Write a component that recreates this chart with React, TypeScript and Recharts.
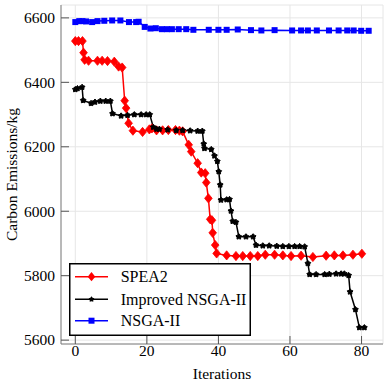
import React from 'react';
import { LineChart, Line, XAxis, YAxis, CartesianGrid, Legend } from 'recharts';

// ---- Data ----
const spea2X = [0, 0.9, 2.0, 2.3, 2.6, 3.7, 6.2, 7.5, 9.0, 10.9, 12.1, 13.1, 13.8, 14.2, 14.9, 16.1, 18.8, 20.7, 21.4, 22.7, 24.4, 26, 28, 29.1, 30, 31.7, 32.4, 34.2, 35.2, 36.3, 36.6, 37.2, 37.7, 38.2, 38.4, 39.1, 39.5, 42.3, 44.9, 46.8, 48.9, 51, 53.1, 55.7, 58, 60.3, 63.1, 66.4, 70.1, 72.4, 74.8, 77.6, 80.1];
const spea2Y = [6528, 6528, 6528, 6492, 6470, 6467, 6467, 6467, 6466, 6464, 6449, 6446, 6343, 6320, 6273, 6250, 6246, 6254, 6257, 6251, 6251, 6252, 6252, 6250, 6248, 6206, 6185, 6149, 6120, 6118, 6089, 6040, 5975, 5972, 5933, 5895, 5869, 5863, 5861, 5861, 5861, 5861, 5865, 5865, 5863, 5861, 5862, 5858, 5862, 5863, 5863, 5865, 5868];

const improvedX = [0, 0.6, 1.9, 2.2, 4.4, 5.5, 7, 8.5, 9.8, 10.4, 12.8, 14.6, 16.5, 18.4, 19.8, 20.8, 21.8, 22.7, 23.5, 25.8, 28.2, 30, 32.1, 34.2, 35.5, 35.9, 36.1, 38, 38.9, 39.7, 40.1, 40.5, 40.7, 42.3, 43.1, 43.5, 44, 44.9, 45.7, 47.7, 49.7, 50.5, 52.4, 54.2, 56.3, 58, 59.7, 61.3, 62.7, 64.1, 65, 65.5, 67.3, 69.7, 71, 72.9, 74.3, 75.2, 76.4, 76.8, 78.3, 79.4, 80.8];
const improvedY = [6378, 6381, 6385, 6344, 6335, 6339, 6342, 6342, 6342, 6303, 6296, 6298, 6300, 6300, 6300, 6300, 6261, 6255, 6255, 6253, 6251, 6251, 6250, 6249, 6249, 6209, 6195, 6192, 6172, 6155, 6123, 6082, 6035, 6036, 6037, 6001, 5969, 5966, 5921, 5921, 5921, 5895, 5893, 5893, 5892, 5891, 5891, 5891, 5891, 5890, 5838, 5804, 5804, 5804, 5805, 5806, 5806, 5806, 5801, 5750, 5695, 5639, 5639];

const nsgaX = [0, 1.1, 2, 3, 4.7, 6.2, 8.1, 10.3, 12.6, 15, 17, 17.7, 19.4, 21, 22.5, 24.2, 25.6, 27, 28.9, 31, 33, 37.3, 40, 42.3, 45.4, 49.1, 52, 55.7, 60.6, 63.1, 65, 67.5, 70.9, 73.6, 76, 77.8, 79.9, 82];
const nsgaY = [6587, 6590, 6590, 6589, 6587, 6590, 6591, 6592, 6592, 6587, 6587, 6588, 6572, 6567, 6568, 6565, 6565, 6565, 6565, 6565, 6563, 6563, 6563, 6563, 6564, 6562, 6561, 6562, 6561, 6561, 6561, 6561, 6561, 6561, 6561, 6561, 6560, 6560];

const xTicks = [0, 20, 40, 60, 80];
const yTicks = [5600, 5800, 6000, 6200, 6400, 6600];
const seriesNames = ['SPEA2', 'Improved NSGA-II', 'NSGA-II'];

const toData = (xs: number[], ys: number[]) => xs.map((x, i) => ({ x, y: ys[i] }));
const spea2Data = toData(spea2X, spea2Y);
const improvedData = toData(improvedX, improvedY);
const nsgaData = toData(nsgaX, nsgaY);

const FONT = "'Liberation Serif', 'Times New Roman', serif";

// ---- Markers ----
const diamondPts = (cx: number, cy: number) =>
  `${cx},${cy - 4.6} ${cx + 3.8},${cy} ${cx},${cy + 4.6} ${cx - 3.8},${cy}`;
const starPts = (cx: number, cy: number) => {
  const pts: string[] = [];
  for (let i = 0; i < 10; i++) {
    const r = i % 2 === 0 ? 3.0 : 1.9;
    const a = -Math.PI / 2 + (i * Math.PI) / 5;
    pts.push(`${cx + r * Math.cos(a)},${cy + r * Math.sin(a)}`);
  }
  return pts.join(' ');
};

const RedDot = (p: any) =>
  p.cx == null ? <g key={p.index} /> : <polygon key={p.index} points={diamondPts(p.cx, p.cy)} fill="#ff0000" stroke="#ff0000" strokeWidth={0.8} />;
const BlackDot = (p: any) =>
  p.cx == null ? <g key={p.index} /> : <polygon key={p.index} points={starPts(p.cx, p.cy)} fill="#000" stroke="#000" strokeWidth={1} strokeLinejoin="round" />;
const BlueDot = (p: any) =>
  p.cx == null ? <g key={p.index} /> : <rect key={p.index} x={p.cx - 3} y={p.cy - 3} width={6} height={6} fill="#0000ff" />;

const XTick = (p: any) => (
  <text x={p.x} y={p.y + 11} textAnchor="middle" fontFamily={FONT} fontSize={15.5} fill="#000">
    {p.payload.value}
  </text>
);
const YTick = (p: any) => (
  <text x={p.x} y={p.y + 5.3} textAnchor="end" fontFamily={FONT} fontSize={15.5} fill="#000">
    {p.payload.value}
  </text>
);

const LegendBox = () => {
  const rows = [
    { name: seriesNames[0], color: '#ff0000', kind: 'd' },
    { name: seriesNames[1], color: '#000000', kind: 's' },
    { name: seriesNames[2], color: '#0000ff', kind: 'q' },
  ];
  const ys = [13.7, 36.3, 57.7];
  return (
    <svg width={182} height={73} style={{ display: 'block' }}>
      <rect x={0.75} y={0.75} width={180.5} height={71.5} fill="#fff" stroke="#000" strokeWidth={1.5} />
      {rows.map((r, i) => {
        const y = ys[i];
        return (
          <g key={r.name}>
            <line x1={6} x2={39} y1={y} y2={y} stroke={r.color} strokeWidth={1.5} />
            {r.kind === 'd' && <polygon points={diamondPts(22.5, y)} fill={r.color} />}
            {r.kind === 's' && <polygon points={starPts(22.5, y)} fill={r.color} />}
            {r.kind === 'q' && <rect x={19.5} y={y - 3} width={6} height={6} fill={r.color} />}
            <text x={51.7} y={y + 5.5} fontFamily={FONT} fontSize={16} fill="#000">{r.name}</text>
          </g>
        );
      })}
    </svg>
  );
};

export default function App() {
  return (
    <div style={{ position: 'absolute', left: 0, top: 0, background: '#fff', fontFamily: FONT }}>
      <LineChart width={390} height={388} margin={{ top: 5, right: 7, left: 0, bottom: 0 }}>
        <CartesianGrid stroke="#e6e6e6" strokeWidth={1} />
        <XAxis
          type="number"
          dataKey="x"
          domain={[-4, 86]}
          ticks={xTicks}
          allowDataOverflow
          height={44}
          tickSize={-8}
          tickMargin={9}
          tick={XTick}
          stroke="#7f7f7f"
          tickLine={{ stroke: '#555' }}
          label={{ value: 'Iterations', position: 'insideBottom', offset: 9, style: { fontFamily: FONT, fontSize: 15.5, fill: '#000' } }}
        />
        <XAxis
          xAxisId="top"
          orientation="top"
          type="number"
          dataKey="x"
          domain={[-4, 86]}
          ticks={xTicks}
          allowDataOverflow
          height={0}
          tickSize={-8}
          tick={false}
          stroke="#7f7f7f"
          tickLine={{ stroke: '#555' }}
        />
        <YAxis
          type="number"
          domain={[5588, 6640]}
          ticks={yTicks}
          allowDataOverflow
          width={61}
          tickSize={-8}
          tickMargin={14}
          tick={YTick}
          stroke="#7f7f7f"
          tickLine={{ stroke: '#555' }}
          label={{ value: 'Carbon Emissions/kg', angle: -90, position: 'center', dx: -19, style: { fontFamily: FONT, fontSize: 15.5, fill: '#000' } }}
        />
        <YAxis
          yAxisId="right"
          orientation="right"
          type="number"
          domain={[5588, 6640]}
          ticks={yTicks}
          allowDataOverflow
          width={0}
          tickSize={-8}
          tick={false}
          stroke="#7f7f7f"
          tickLine={{ stroke: '#555' }}
        />
        <Line data={spea2Data} dataKey="y" name={seriesNames[0]} stroke="#ff0000" strokeWidth={1.5} dot={RedDot} isAnimationActive={false} />
        <Line data={improvedData} dataKey="y" name={seriesNames[1]} stroke="#000000" strokeWidth={1.5} dot={BlackDot} isAnimationActive={false} />
        <Line data={nsgaData} dataKey="y" name={seriesNames[2]} stroke="#0000ff" strokeWidth={1.5} dot={BlueDot} isAnimationActive={false} />
        <Legend
          layout="vertical"
          align="center"
          verticalAlign="middle"
          content={() => <LegendBox />}
          wrapperStyle={{ position: 'absolute', left: 69, top: 263, width: 182, height: 73 }}
        />
      </LineChart>
    </div>
  );
}
